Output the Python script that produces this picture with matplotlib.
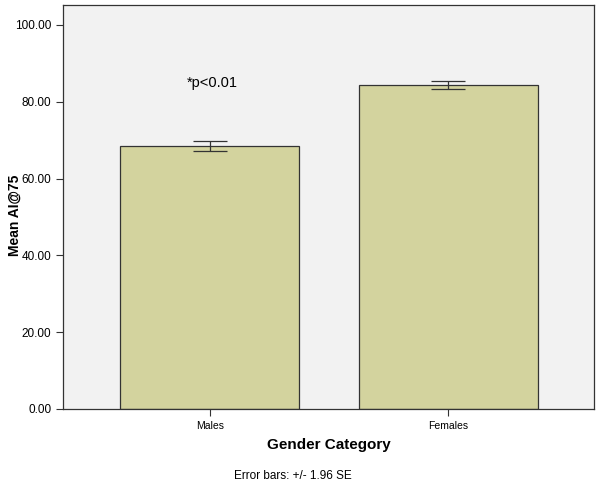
import matplotlib
matplotlib.use("Agg")
import matplotlib.pyplot as plt

plt.rcParams['font.family'] = ['Liberation Sans', 'DejaVu Sans']

# data
categories = ["Males", "Females"]
means = [68.6, 84.4]
err_low = [1.3, 1.1]
err_high = [1.3, 1.1]
yticks = [0, 20, 40, 60, 80, 100]

fig = plt.figure(figsize=(6.01, 4.84), dpi=100)
ax = fig.add_axes([0.1048, 0.155, 0.8832, 0.8347])
ax.set_facecolor("#f2f2f2")

x = list(range(len(categories)))
ax.bar(x, means, width=0.75, color="#d3d39e", edgecolor="#333333", linewidth=0.9, zorder=2)
ax.errorbar(x, means, yerr=[err_low, err_high], fmt="none", ecolor="#333333",
            elinewidth=0.9, capsize=12, capthick=0.9, zorder=3)

ax.set_xlim(-0.615, 1.61)
ax.set_ylim(0, 105.2)
ax.set_xticks(x)
ax.set_xticklabels(categories, fontsize=7.5)
ax.set_yticks(yticks)
ax.set_yticklabels(["%.2f" % v for v in yticks], fontsize=8.5)
ax.tick_params(direction="out", length=5, width=0.8, color="#333333")
for s in ax.spines.values():
    s.set_color("#333333")
    s.set_linewidth(0.9)

ax.set_ylabel("Mean AI@75", fontsize=10, fontweight="bold")
ax.yaxis.set_label_coords(-0.078, 0.48)
ax.set_xlabel("Gender Category", fontsize=11, fontweight="bold", labelpad=5)

ax.text(0.01, 84.9, "*p<0.01", fontsize=10.5, ha="center", va="center")
fig.text(0.487, 0.004, "Error bars: +/- 1.96 SE", fontsize=8.5, ha="center", va="bottom")

fig.savefig("out.png", dpi=100)
